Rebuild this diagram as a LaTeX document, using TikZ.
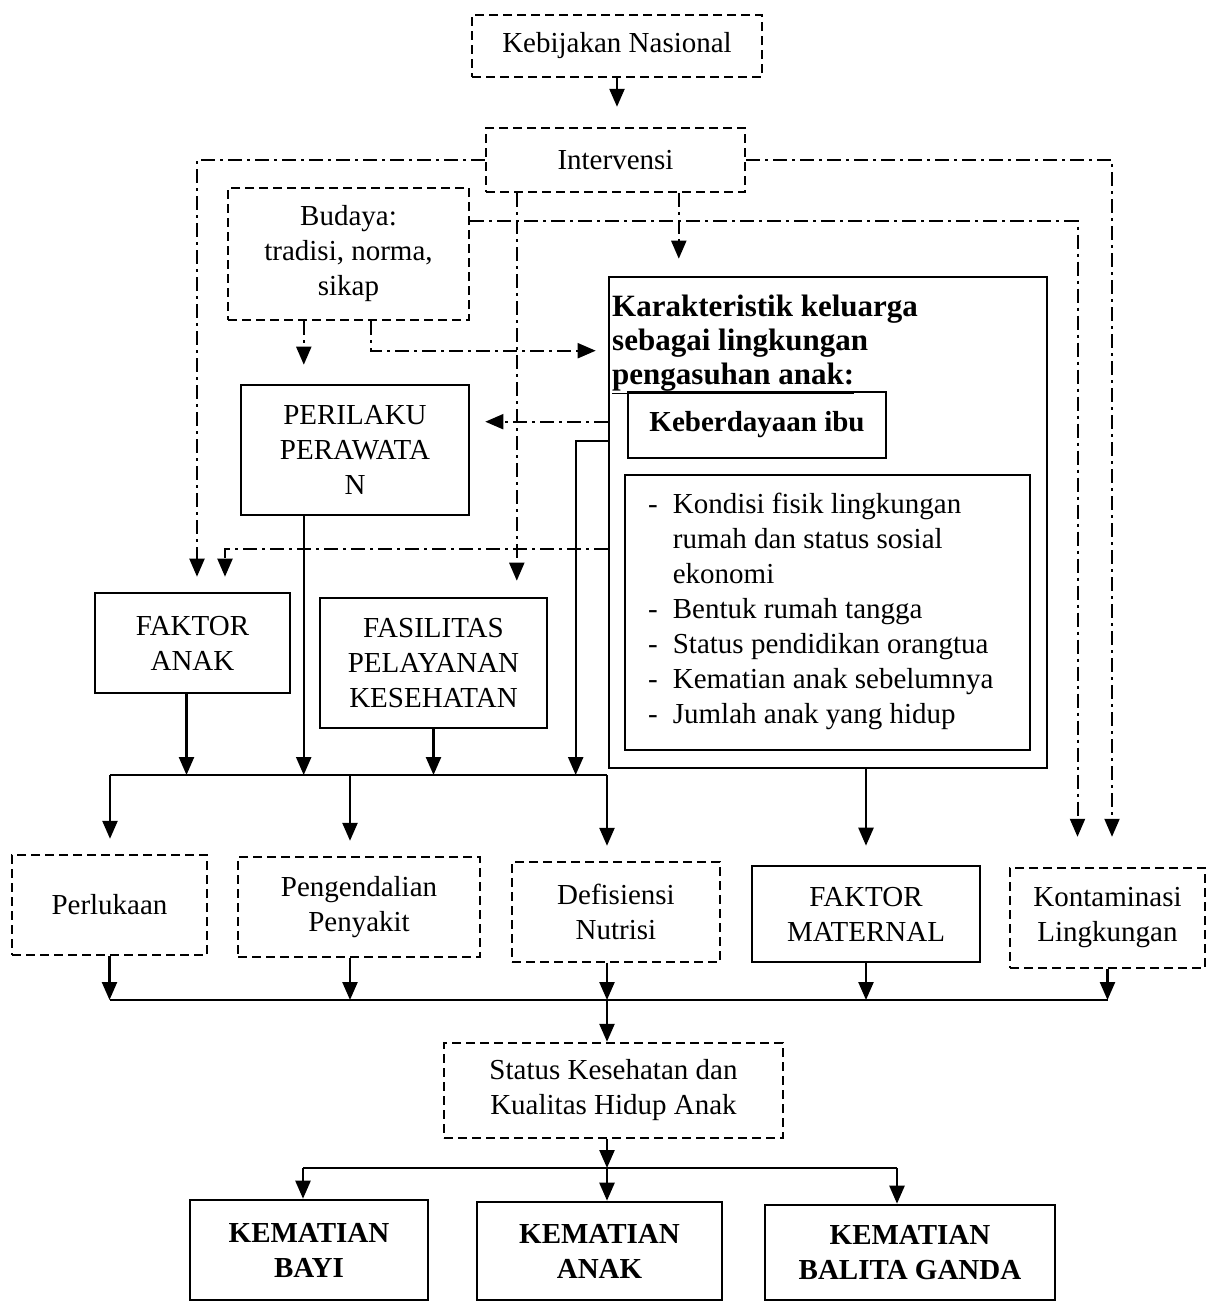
\documentclass[tikz,border=0pt]{standalone}
\usepackage{fontspec}
\setmainfont{Liberation Serif}
\usetikzlibrary{arrows.meta,calc}
\begin{document}
\begin{tikzpicture}[x=1pt,y=-1pt,
  txt/.style={font={\fontsize{29}{35}\selectfont}, align=center, inner sep=0pt},
  btxt/.style={font={\fontsize{29}{35}\selectfont\bfseries}, align=center, inner sep=0pt},
  sbox/.style={draw, line width=2.6pt},
  dbox/.style={draw, line width=2.4pt, dash pattern=on 9pt off 5pt},
  line/.style={line width=2.4pt},
  conn/.style={line width=2.4pt, -{Triangle[width=15pt,length=18pt]}},
  dd/.style={line width=2pt, dash pattern=on 14pt off 5pt on 3pt off 5pt},
  ddarr/.style={dd, -{Triangle[width=15pt,length=18pt]}}
]
\useasboundingbox (0,0) rectangle (1209,1302);

% nodes
\node[txt, dbox, minimum width=290pt, minimum height=62pt] (keb) at (617,46) {Kebijakan Nasional};
\node[txt, dbox, minimum width=259pt, minimum height=64pt] (int) at (615.5,160) {Intervensi};
\node[txt, dbox, minimum width=241pt, minimum height=132pt] (bud) at (348.5,254) {Budaya:\\tradisi, norma,\\sikap};
\node[txt, sbox, minimum width=228pt, minimum height=130pt] (per) at (355,450) {PERILAKU\\PERAWATA\\N};
\node[txt, sbox, minimum width=438pt, minimum height=491pt] (kar) at (828,522.5) {};
\node[txt, font={\fontsize{31}{34}\selectfont\bfseries}, align=left, anchor=north west] (kart) at (612,295) {Karakteristik keluarga\\sebagai lingkungan\\\underline{pengasuhan anak:}};
\node[btxt, sbox, minimum width=258pt, minimum height=66pt] (ibu) at (757,425) {Keberdayaan ibu};
\node[txt, sbox, minimum width=405pt, minimum height=275pt] (lst) at (827.5,612.5) {};
\node[txt, align=left, anchor=north west] (lstt) at (648,489) {\begin{tabular}{@{}l@{\hspace{15pt}}l@{}}
- & Kondisi fisik lingkungan\\
 & rumah dan status sosial\\
 & ekonomi\\
- & Bentuk rumah tangga\\
- & Status pendidikan orangtua\\
- & Kematian anak sebelumnya\\
- & Jumlah anak yang hidup
\end{tabular}};
\node[txt, sbox, minimum width=195pt, minimum height=100pt] (fanak) at (192.5,643) {FAKTOR\\ANAK};
\node[txt, sbox, minimum width=227pt, minimum height=130pt] (fas) at (433.5,663) {FASILITAS\\PELAYANAN\\KESEHATAN};
\node[txt, dbox, minimum width=195pt, minimum height=100pt] (perl) at (109.5,905) {Perlukaan};
\node[txt, dbox, minimum width=242pt, minimum height=100pt] (peng) at (359,907) {Pengendalian\\Penyakit};
\node[txt, dbox, minimum width=208pt, minimum height=100pt] (def) at (616,912) {Defisiensi\\Nutrisi};
\node[txt, sbox, minimum width=228pt, minimum height=96pt] (fmat) at (866,914) {FAKTOR\\MATERNAL};
\node[txt, dbox, minimum width=195pt, minimum height=100pt] (kont) at (1107.5,918) {Kontaminasi\\Lingkungan};
\node[txt, dbox, minimum width=339pt, minimum height=95pt] (status) at (613.5,1090.5) {Status Kesehatan dan\\Kualitas Hidup Anak};
\node[btxt, sbox, minimum width=238pt, minimum height=100pt] (bayi) at (309,1250) {KEMATIAN\\BAYI};
\node[btxt, sbox, minimum width=245pt, minimum height=98pt] (kanak) at (599.5,1251) {KEMATIAN\\ANAK};
\node[btxt, sbox, minimum width=290pt, minimum height=95pt] (balita) at (910,1252.5) {KEMATIAN\\BALITA GANDA};

% top arrow
\draw[conn, shorten >=20pt] (keb.south) -- (keb.south |- int.north);

% dash-dot connectors
\draw[ddarr, shorten >=15pt] (int.west) -| ($(fanak.north)+(4.5,0)$);
\coordinate (i2) at ($(int.south west)+(32,0)$);
\draw[ddarr, shorten >=16pt] (i2) -- (i2 |- fas.north);
\coordinate (i3) at ($(int.south west)+(194,0)$);
\draw[ddarr, shorten >=17pt] (i3) -- (i3 |- kar.north);
\draw[ddarr, shorten >=30pt] (int.east) -| ($(kont.north)+(4.5,0)$);
\draw[ddarr, shorten >=30pt] ($(bud.north east)+(0,34)$) -| ($(kont.north)+(-30,0)$);
\coordinate (b1) at ($(bud.south west)+(77,0)$);
\draw[ddarr, shorten >=19pt] (b1) -- (b1 |- per.north);
\coordinate (b2) at ($(bud.south west)+(144,0)$);
\draw[ddarr, shorten >=12pt] (b2) |- ($(kar.north west)+(0,75)$);
\coordinate (k1) at ($(kar.north west)+(0,146)$);
\draw[ddarr, shorten >=15pt] (k1) -- (k1 -| per.east);
\coordinate (k2) at ($(kar.north west)+(0,273)$);
\draw[ddarr, shorten >=15pt] (k2) -| ($(fanak.north)+(32.5,0)$);

% first bus
\coordinate (busA) at (110,775);
\coordinate (busB) at (350,775);
\coordinate (busC) at (607,775);
\draw[line] (busA) -- (busC);
\coordinate (fa) at ($(fanak.south)+(-6,0)$);
\draw[conn] (fa) -- (fa |- busA);
\coordinate (p1) at ($(per.south west)+(64,0)$);
\draw[conn] (p1) -- (p1 |- busA);
\draw[conn] (fas.south) -- (fas.south |- busA);
\coordinate (k3) at ($(kar.north west)+(0,165)$);
\coordinate (k3b) at ($(k3)+(-32,0)$);
\draw[conn] (k3) -- (k3b) -- (k3b |- busA);
\draw[conn, shorten >=15pt] (busA) -- (busA |- perl.north);
\draw[conn, shorten >=15pt] (busB) -- (busB |- peng.north);
\draw[conn, shorten >=15pt] (busC) -- (busC |- def.north);

% karakteristik -> faktor maternal
\draw[conn, shorten >=19pt] (fmat.north |- kar.south) -- (fmat.north);

% second bus
\coordinate (cA) at (110,1000);
\coordinate (cE) at (1108,1000);
\coordinate (cM) at (607,1000);
\draw[line] (cA) -- (cE);
\draw[conn] (perl.south) -- (perl.south |- cA);
\coordinate (pg) at ($(peng.south)+(-9,0)$);
\draw[conn] (pg) -- (pg |- cA);
\coordinate (df) at ($(def.south)+(-9,0)$);
\draw[conn] (df) -- (df |- cA);
\draw[conn] (fmat.south) -- (fmat.south |- cA);
\draw[conn] (kont.south) -- (kont.south |- cA);
\draw[conn] (cM) -- (cM |- status.north);

% third bus
\coordinate (dL) at (303,1168);
\coordinate (dM) at (607,1168);
\coordinate (dR) at (897,1168);
\draw[conn] (dM |- status.south) -- (dM);
\draw[line] (dL) -- (dR);
\draw[conn] (dL) -- (dL |- bayi.north);
\draw[conn] (dM) -- (dM |- kanak.north);
\draw[conn] (dR) -- (dR |- balita.north);
\end{tikzpicture}
\end{document}
